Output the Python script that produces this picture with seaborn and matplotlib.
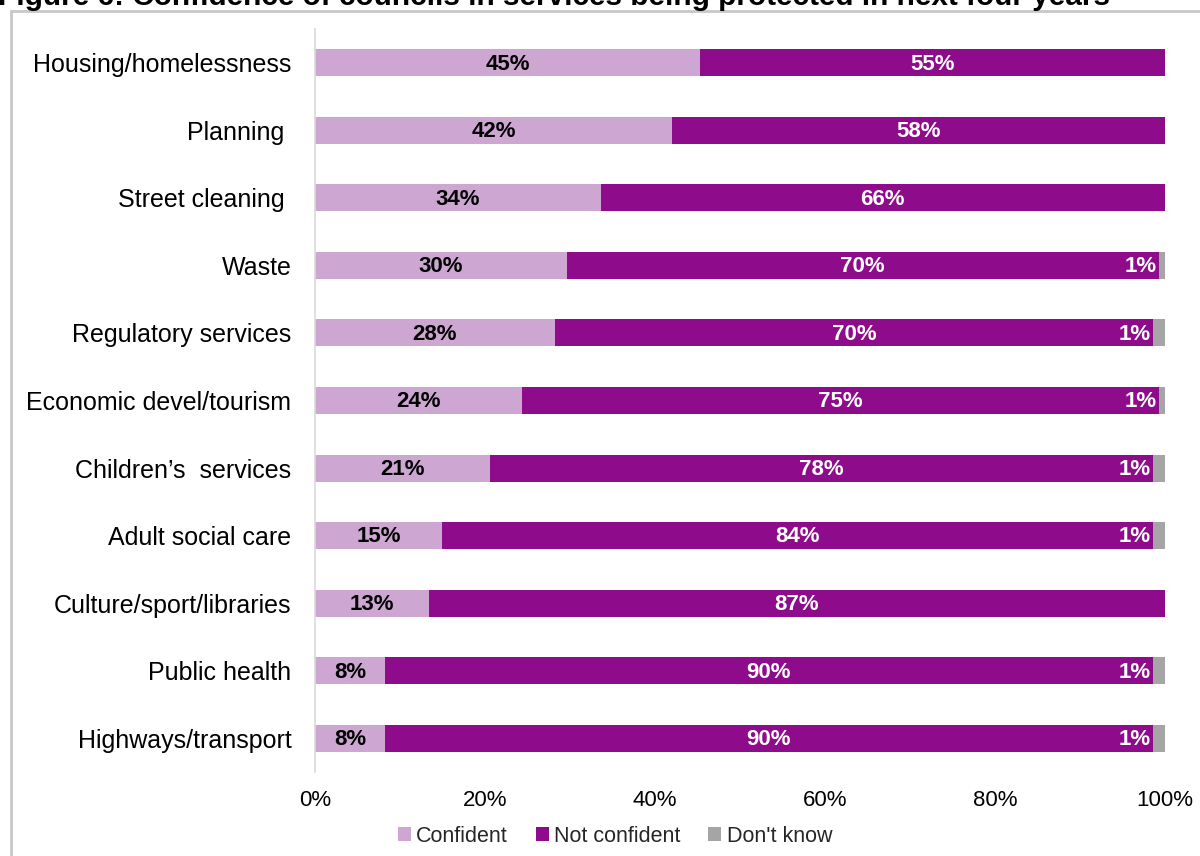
import matplotlib
matplotlib.use("Agg")
import matplotlib.pyplot as plt
from matplotlib.patches import Patch, Rectangle
import seaborn as sns
import pandas as pd

# Survey results: share of councils by confidence that each service is protected
services = [
    "Housing/homelessness",
    "Planning ",
    "Street cleaning ",
    "Waste",
    "Regulatory services",
    "Economic devel/tourism",
    "Children\u2019s  services",
    "Adult social care",
    "Culture/sport/libraries",
    "Public health",
    "Highways/transport",
]
confident = [45.3, 42.0, 33.6, 29.6, 28.2, 24.4, 20.6, 15.0, 13.4, 8.2, 8.2]
not_confident = [54.7, 58.0, 66.4, 69.7, 70.4, 74.9, 78.0, 83.6, 86.6, 90.4, 90.4]
dont_know = [0.0, 0.0, 0.0, 0.7, 1.4, 0.7, 1.4, 1.4, 0.0, 1.4, 1.4]

series_names = ["Confident", "Not confident", "Don't know"]
tick_values = [0, 20, 40, 60, 80, 100]
title = "Figure 6: Confidence of councils in services being protected in next four years"

C_CONF = "#CDA6D2"
C_NOT = "#8E0C8B"
C_DK = "#A5A5A5"

sns.set_theme(style="white")
plt.rcParams["font.family"] = ["Liberation Sans", "DejaVu Sans"]

df = pd.DataFrame({
    "service": services,
    "conf": confident,
    "nc": not_confident,
    "dk": dont_know,
})
df["end_conf"] = df["conf"]
df["end_nc"] = df["conf"] + df["nc"]
df["end_dk"] = df["conf"] + df["nc"] + df["dk"]

fig = plt.figure(figsize=(12, 8.56), dpi=100)
ax = fig.add_axes([0.2625, 0.0981, 0.7083, 0.868])

# Stacked bars: draw cumulative totals back to front
for col, colour in [("end_dk", C_DK), ("end_nc", C_NOT), ("end_conf", C_CONF)]:
    sns.barplot(data=df, y="service", x=col, order=services, color=colour,
                saturation=1, width=0.4, orient="h", linewidth=0, ax=ax)

# Value labels
for i, row in df.iterrows():
    y = i + 0.02
    ax.text(row["conf"] / 2, y, f"{row['conf']:.0f}%", ha="center", va="center",
            fontsize=16, fontweight="bold", color="black")
    ax.text(row["conf"] + row["nc"] / 2, y, f"{row['nc']:.0f}%", ha="center",
            va="center", fontsize=16, fontweight="bold", color="white")
    if row["dk"] > 0:
        ax.text(row["end_nc"] - 0.25, y, f"{row['dk']:.0f}%", ha="right",
                va="center", fontsize=16, fontweight="bold", color="white")

ax.set_xlim(0, 100)
ax.set_xticks(tick_values)
ax.set_xticklabels([f"{v}%" for v in tick_values])
ax.set_xlabel("")
ax.set_ylabel("")
ax.tick_params(axis="x", length=0, pad=13, labelsize=16, colors="black")
ax.tick_params(axis="y", length=0, pad=17, labelsize=18, colors="black")
for side in ["top", "right", "bottom"]:
    ax.spines[side].set_visible(False)
ax.spines["left"].set_color("#D9D9D9")
ax.spines["left"].set_linewidth(1.2)

handles = [Patch(facecolor=c, edgecolor="none") for c in (C_CONF, C_NOT, C_DK)]
fig.legend(handles, series_names, loc="center", bbox_to_anchor=(615 / 1200, 1 - 836 / 856),
           ncol=3, frameon=False, fontsize=15.5, handlelength=0.6, handleheight=0.6,
           handletextpad=0.25, columnspacing=1.3)

# Chart frame and heading above it
fig.patches.append(Rectangle((11 / 1200, -0.1), 1.2, 1.1 - 11 / 856, fill=False,
                             edgecolor="#C8C8C8", linewidth=2,
                             transform=fig.transFigure, figure=fig))
fig.text(-0.002, 1 - 5 / 856, title, ha="left", va="baseline", fontsize=21.4,
         fontweight="bold", color="black")

fig.savefig("out.png", dpi=100)
